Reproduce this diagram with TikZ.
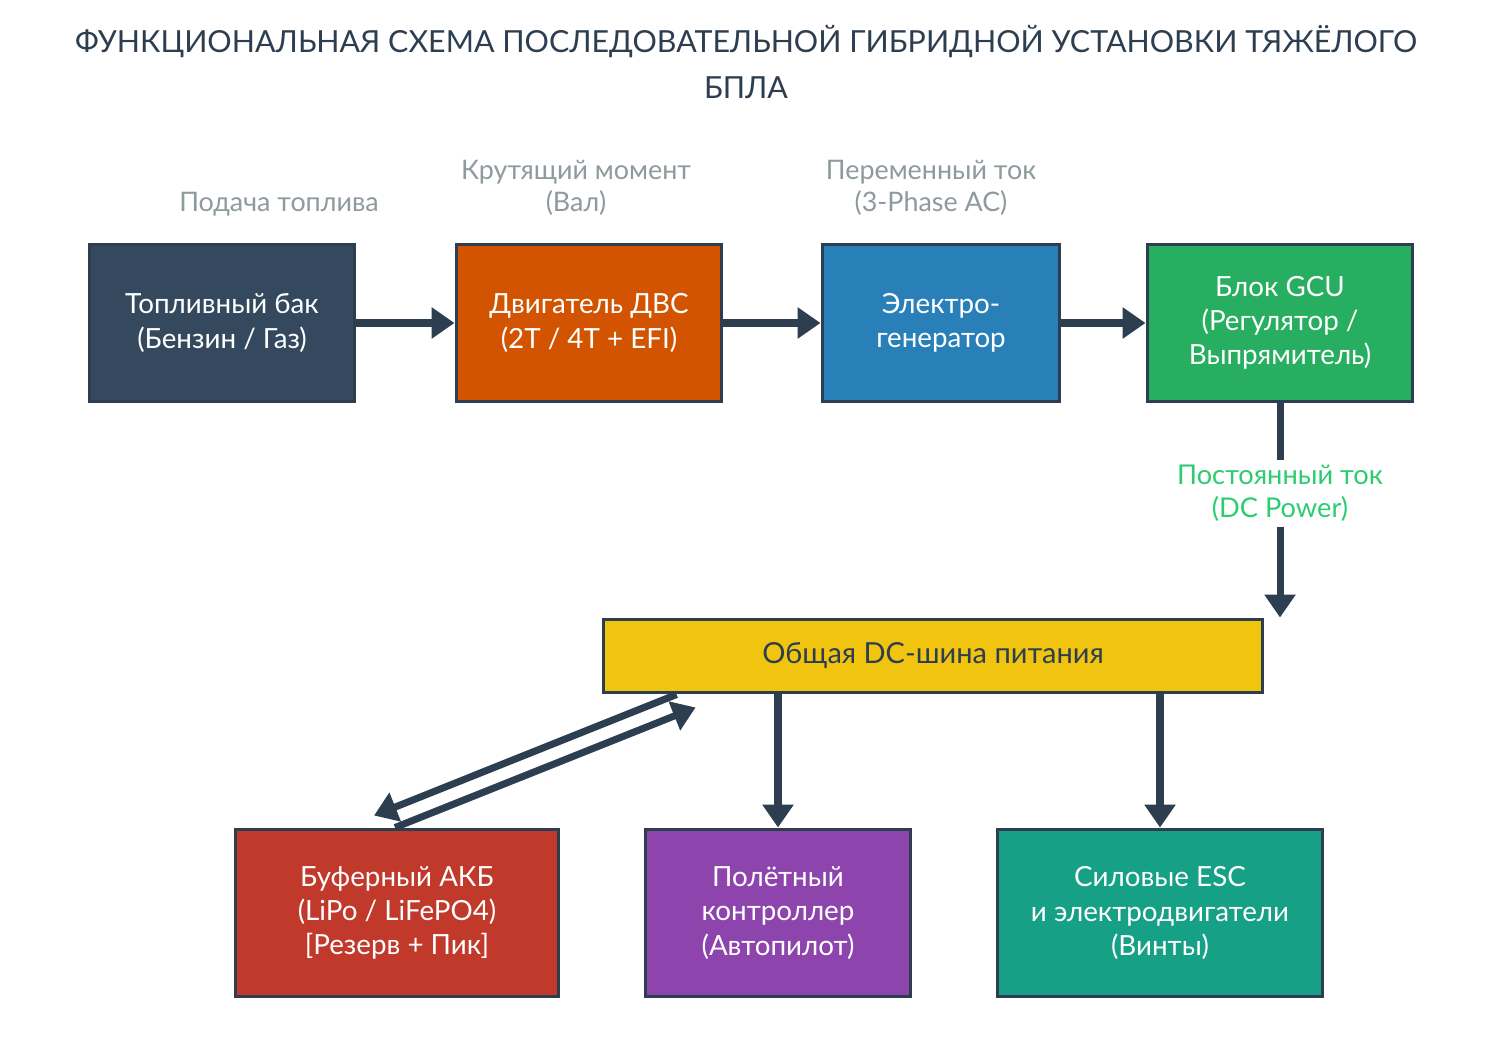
\documentclass[tikz,border=0pt]{standalone}
\usepackage{fontspec}
\setmainfont{Lato}
\usetikzlibrary{arrows.meta,calc}
\definecolor{slate}{HTML}{2C3E50}
\definecolor{tankc}{HTML}{34495E}
\definecolor{enginec}{HTML}{D35400}
\definecolor{genc}{HTML}{2980B9}
\definecolor{gcuc}{HTML}{27AE60}
\definecolor{busc}{HTML}{F1C40F}
\definecolor{batc}{HTML}{C0392B}
\definecolor{fcc}{HTML}{8E44AD}
\definecolor{escc}{HTML}{16A085}
\definecolor{labelc}{HTML}{8E9A9D}
\definecolor{dcc}{HTML}{2ECC71}
\begin{document}
\begin{tikzpicture}[x=0.02cm,y=-0.02cm,
 block/.style={draw=slate,line width=1.7pt,text=white,align=center,inner sep=0pt,
  minimum height=3.16cm,font=\fontsize{15.8pt}{19.5pt}\selectfont},
 flowlabel/.style={text=labelc,align=center,font=\fontsize{15.3pt}{18.5pt}\selectfont},
 arr/.style={draw=slate,line width=4pt,-{Triangle[length=13pt,width=17pt]}}]
 \useasboundingbox[fill=white] (0,0) rectangle (1498,1050);
 \node[text=slate,align=center,font=\fontsize{17.3pt}{26.5pt}\selectfont] (title) at (746,62)
  {ФУНКЦИОНАЛЬНАЯ СХЕМА ПОСЛЕДОВАТЕЛЬНОЙ ГИБРИДНОЙ УСТАНОВКИ ТЯЖЁЛОГО\\БПЛА};
 % upper chain
 \node[block,fill=tankc,minimum width=5.3cm] (tank) at (222,323) {Топливный бак\\(Бензин / Газ)};
 \node[block,fill=enginec,minimum width=5.32cm] (engine) at (589,323) {Двигатель ДВС\\(2T / 4T + EFI)};
 \node[block,fill=genc,minimum width=4.76cm] (gen) at (941,323) {Электро-\\генератор};
 \node[block,fill=gcuc,minimum width=5.32cm] (gcu) at (1280,323) {Блок GCU\\(Регулятор /\\Выпрямитель)};
 \node[flowlabel] (fuel) at (279,204) {Подача топлива};
 \node[flowlabel] (torque) at (576,188) {Крутящий момент\\(Вал)};
 \node[flowlabel] (ac) at (931,188) {Переменный ток\\(3-Phase AC)};
 % bus and consumers
 \node[block,fill=busc,text=slate,minimum width=13.2cm,minimum height=1.48cm,
  font=\fontsize{16.5pt}{19.5pt}\selectfont] (bus) at (933,656) {Общая DC-шина питания};
 \node[block,fill=batc,minimum width=6.46cm,minimum height=3.36cm] (bat) at (397,913) {Буферный АКБ\\(LiPo / LiFePO4)\\{[Резерв + Пик]}};
 \node[block,fill=fcc,minimum width=5.3cm,minimum height=3.36cm] (fc) at (778,913) {Полётный\\контроллер\\(Автопилот)};
 \node[block,fill=escc,minimum width=6.5cm,minimum height=3.36cm] (esc) at (1160,913) {Силовые ESC\\и электродвигатели\\(Винты)};
 \draw[arr] (tank) -- (engine);
 \draw[arr] (engine) -- (gen);
 \draw[arr] (gen) -- (gcu);
 \coordinate (dcend) at (gcu.south |- bus.north);
 \draw[arr] (gcu.south) -- node[pos=0.42,fill=white,text=dcc,align=center,inner sep=3pt,
  font=\fontsize{15.5pt}{18.5pt}\selectfont] (dc) {Постоянный ток\\(DC Power)} (dcend);
 \draw[arr] ($(bus.south west)+(75,0)$) -- ($(bat.north west)+(140,-12)$);
 \draw[arr] ($(bat.north west)+(161,0)$) -- ($(bus.south west)+(94,13)$);
 \draw[arr] (bus.south -| fc.north) -- (fc.north);
 \draw[arr] (bus.south -| esc.north) -- (esc.north);
\end{tikzpicture}
\end{document}
